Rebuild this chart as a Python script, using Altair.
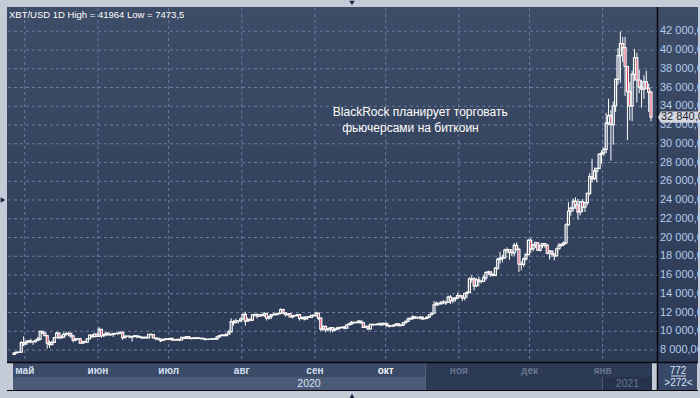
import altair as alt
import pandas as pd

# ---------------- data (high, low, close) per month; open = previous close ----------------
first_open = 7540
apr = [(7700, 7473.5, 7690), (7790, 7650, 7770), (7800, 7680, 7760), (8950, 7740, 8780), (9460, 8420, 8630)]
may = [(9050, 8630, 8830), (9000, 8760, 8970), (9180, 8720, 8890), (8960, 8550, 8880), (9100, 8790, 9030),
       (9400, 8940, 9160), (9990, 9040, 9990), (9990, 9730, 9810), (9900, 9490, 9540), (9580, 8140, 8730),
       (9020, 8220, 8570), (8980, 8560, 8810), (9370, 8790, 9310), (9930, 9270, 9790), (9840, 9150, 9310),
       (9580, 9220, 9380), (9880, 9340, 9670), (9950, 9480, 9730), (9880, 9460, 9780), (9840, 9280, 9510),
       (9560, 8810, 9060), (9260, 8940, 9170), (9300, 9090, 9180), (9290, 8700, 8720), (8980, 8640, 8900),
       (9010, 8700, 8840), (9220, 8810, 9200), (9620, 9110, 9580), (9610, 9330, 9430), (9740, 9350, 9700),
       (9700, 9400, 9450)]
jun = [(10430, 9410, 10200), (10230, 9300, 9520), (9690, 9380, 9660), (9880, 9480, 9800), (9850, 9590, 9620),
       (9730, 9540, 9670), (9800, 9400, 9760), (9800, 9640, 9780), (9880, 9580, 9770), (9990, 9730, 9880),
       (9940, 9080, 9310), (9550, 9260, 9470), (9490, 9390, 9480), (9490, 9260, 9390), (9500, 8900, 9440),
       (9560, 9370, 9520), (9540, 9240, 9460), (9480, 9280, 9380), (9400, 9210, 9300), (9400, 9190, 9360),
       (9420, 9270, 9290), (9710, 9280, 9680), (9690, 9580, 9630), (9670, 9220, 9290), (9330, 9010, 9250),
       (9280, 9060, 9160), (9190, 8840, 9010), (9190, 8960, 9120), (9230, 9030, 9190), (9200, 9090, 9140)]
jul = [(9300, 9100, 9230), (9270, 8950, 9090), (9130, 9040, 9060), (9190, 9050, 9130), (9130, 8940, 9070),
       (9370, 9060, 9340), (9350, 9200, 9250), (9460, 9230, 9430), (9440, 9150, 9230), (9310, 9120, 9280),
       (9300, 9200, 9230), (9340, 9160, 9300), (9340, 9210, 9240), (9280, 9130, 9250), (9270, 9170, 9190),
       (9200, 9010, 9130), (9180, 9100, 9150), (9200, 9130, 9170), (9240, 9120, 9210), (9220, 9130, 9160),
       (9420, 9140, 9390), (9550, 9290, 9530), (9650, 9460, 9600), (9670, 9460, 9540), (9740, 9530, 9700),
       (10150, 9650, 9930), (11390, 9920, 11030), (11220, 10600, 10910), (11340, 10880, 11110),
       (11170, 10840, 11110), (11450, 10990, 11330)]
aug = [(11850, 11230, 11800), (12090, 10600, 11070), (11470, 11020, 11230), (11420, 11060, 11190),
       (11790, 11100, 11740), (11900, 11590, 11770), (11910, 11360, 11600), (11800, 11540, 11760),
       (11800, 11560, 11680), (12060, 11520, 11880), (11930, 11150, 11400), (11620, 11250, 11580),
       (11800, 11300, 11780), (11980, 11660, 11770), (11970, 11690, 11860), (11950, 11710, 11910),
       (12470, 11800, 12300), (12400, 11850, 11960), (12020, 11580, 11760), (11880, 11690, 11860),
       (11880, 11500, 11530), (11690, 11380, 11680), (11710, 11530, 11660), (11820, 11600, 11770),
       (11780, 11130, 11360), (11550, 11270, 11470), (11580, 11150, 11330), (11560, 11290, 11540),
       (11600, 11430, 11490), (11720, 11460, 11700), (11780, 11570, 11670)]
sep = [(12090, 11560, 11930), (11950, 11170, 11410), (11470, 10020, 10230), (10600, 10020, 10510),
       (10580, 9880, 10170), (10360, 10000, 10260), (10400, 9890, 10380), (10430, 9880, 10120),
       (10350, 10000, 10230), (10490, 10200, 10350), (10410, 10190, 10400), (10470, 10300, 10440),
       (10550, 10220, 10330), (10780, 10270, 10680), (10920, 10640, 10790), (11090, 10660, 10950),
       (11040, 10750, 10940), (11030, 10820, 10930), (11170, 10900, 11080), (11080, 10800, 10920),
       (10990, 10370, 10420), (10570, 10370, 10530), (10540, 10150, 10240), (10770, 10200, 10740),
       (10760, 10600, 10690), (10780, 10650, 10730), (10800, 10620, 10770), (10950, 10640, 10690),
       (10870, 10640, 10840), (10850, 10680, 10780)]
octo = [(10940, 10450, 10620), (10660, 10380, 10570), (10600, 10510, 10550), (10690, 10520, 10670),
        (10800, 10630, 10790), (10800, 10540, 10600), (10690, 10580, 10670), (10950, 10550, 10920),
        (11110, 10830, 11060), (11480, 11060, 11300), (11440, 11260, 11380), (11720, 11200, 11540),
        (11560, 11300, 11430), (11560, 11290, 11430), (11620, 11260, 11500), (11540, 11230, 11320),
        (11410, 11310, 11370), (11540, 11350, 11510), (11820, 11420, 11760), (12020, 11690, 11920),
        (13230, 11900, 12820), (13190, 12700, 12980), (13030, 12730, 12930), (13170, 12890, 13120),
        (13350, 12900, 13040), (13250, 12800, 13070), (13790, 13060, 13650), (13860, 12920, 13270),
        (13640, 12990, 13460), (13660, 13130, 13560), (14100, 13430, 13800)]
nov = [(13900, 13620, 13760), (13820, 13210, 13550), (14070, 13300, 14030), (14240, 13540, 14150),
       (15760, 14100, 15590), (15960, 15180, 15580), (15760, 14360, 14830), (15650, 14700, 15480),
       (15830, 14810, 15330), (15460, 15080, 15310), (15960, 15270, 15700), (16340, 15440, 16290),
       (16480, 15980, 16330), (16330, 15800, 16070), (16130, 15860, 15960), (16880, 15880, 16720),
       (17850, 16560, 17660), (18480, 17220, 17790), (18150, 17350, 17820), (18800, 17760, 18660),
       (18950, 18310, 18700), (18700, 17620, 18420), (18770, 18000, 18370), (19420, 18030, 19160),
       (19490, 18600, 18730), (18920, 16330, 17150), (17450, 16500, 17140), (17870, 16880, 17720),
       (18340, 17540, 18180), (19860, 18170, 19700)]
dec = [(19920, 18330, 18780), (19300, 18520, 19210), (19560, 18900, 19440), (19500, 18570, 18650),
       (19170, 18500, 19150), (19420, 18860, 19360), (19410, 18900, 19170), (19290, 18200, 18320),
       (18640, 17650, 18550), (18560, 17910, 18250), (18270, 17570, 18040), (18930, 18030, 18800),
       (19410, 18720, 19170), (19350, 19000, 19270), (19570, 19060, 19430), (21530, 19290, 21360),
       (23770, 21240, 22800), (23280, 22340, 23130), (24170, 22750, 23860), (24280, 23060, 23480),
       (24100, 21900, 22740), (23840, 22360, 23820), (24100, 22700, 23240), (23780, 22720, 23730),
       (24770, 23430, 24710), (26870, 24510, 26490), (28390, 25850, 26280), (27450, 26100, 27070),
       (27370, 25880, 27370), (28990, 27330, 28880), (29300, 27870, 28990)]
jan = [(29600, 28700, 29390), (33300, 29000, 32200), (34800, 32000, 33000), (33600, 28200, 32030),
       (34500, 29900, 34050), (36950, 33400, 36860), (40200, 36300, 39400), (41964, 36500, 40670),
       (41380, 38700, 40250), (41400, 35100, 38240), (38300, 30400, 35560), (36600, 32500, 34050),
       (37800, 32400, 37400), (40100, 36700, 39150), (39700, 34400, 36800), (37900, 35400, 36050),
       (36800, 33850, 35830), (37300, 34800, 36630), (37800, 35900, 35920), (36400, 33400, 35500),
       (35600, 32400, 32840)]

price_ticks = [8000, 10000, 12000, 14000, 16000, 18000, 20000, 22000, 24000, 26000, 28000, 30000,
               32000, 34000, 36000, 38000, 40000, 42000]
month_starts = ["2020-05-01", "2020-06-01", "2020-07-01", "2020-08-01", "2020-09-01", "2020-10-01",
                "2020-11-01", "2020-12-01", "2021-01-01"]
month_labels = ["май", "июн", "июл", "авг", "сен", "окт", "ноя", "дек", "янв"]
month_colors = ["#d3e0f2"] * 5 + ["#f2f6fc"] + ["#66748e"] * 3
header = "XBT/USD 1D High = 41964 Low = 7473,5"
note_lines = ["BlackRock планирует торговать", "фьючерсами на биткоин"]
note_dates = ["2020-09-08T14:00:00", "2020-09-12T14:00:00"]
note_prices = [33380, 31680]
last_price_label = "32 840,00"
counter_top, counter_bottom = "772", ">272<"

# ---------------- table ----------------
rows = [r for m in (apr, may, jun, jul, aug, sep, octo, nov, dec, jan) for r in m]
dates = pd.date_range("2020-04-26 12:00", periods=len(rows), freq="D")
closes = [r[2] for r in rows]
opens = [first_open] + closes[:-1]
df = pd.DataFrame({
    "date": dates.strftime("%Y-%m-%dT%H:%M:%S"),
    "open": opens, "high": [r[0] for r in rows], "low": [r[1] for r in rows], "close": closes,
})
df["top"] = df[["open", "close"]].max(axis=1)
df["bot"] = df[["open", "close"]].min(axis=1)
df["up"] = df["close"] >= df["open"]

W, H = 649, 354
FONT = "Liberation Sans"
BG_TOP, BG_BOT = "#3d4c67", "#2c3a55"
GRID = "#6a7e9c"
LINE = "#05070c"

x_dom = [alt.DateTime(year=2020, month=4, date=26, hours=0),
         alt.DateTime(year=2021, month=1, date=21, hours=22)]
xscale = alt.Scale(domain=x_dom)
yscale = alt.Scale(domain=[6720, 44480], nice=False, zero=False)
X = lambda f: alt.X(f, scale=xscale, axis=None)
Y = lambda f: alt.Y(f, scale=yscale, axis=None)

one = pd.DataFrame({"a": [0]})

bg = alt.Chart(one).mark_rect(
    fill=alt.LinearGradient(gradient="linear", x1=0, x2=0, y1=0, y2=1,
                            stops=[alt.GradientStop(color=BG_TOP, offset=0),
                                   alt.GradientStop(color=BG_BOT, offset=1)])
).encode(x=alt.value(-1), x2=alt.value(690), y=alt.value(-1), y2=alt.value(355))

# grid
months_df = pd.DataFrame({"d": [m + "T00:00:00" for m in month_starts], "lab": month_labels,
                          "col": month_colors})
vgrid = alt.Chart(months_df).mark_rule(color=GRID, strokeDash=[3, 3], strokeWidth=1).encode(
    x=X("d:T"), y=alt.value(0), y2=alt.value(354))
ticks_df = pd.DataFrame({"p": price_ticks})
ticks_df["lab"] = [f"{p:,.2f}".replace(",", " ").replace(".", ",") for p in price_ticks]
hgrid = alt.Chart(ticks_df).mark_rule(color=GRID, strokeDash=[3, 3], strokeWidth=1).encode(
    y=Y("p:Q"), x=alt.value(0), x2=alt.value(649))

# bottom date band segments (data-driven through x scale)
band = pd.DataFrame({
    "start": ["2020-04-26T00:00:00", "2020-10-18T00:00:00",
              "2020-04-26T00:00:00", "2020-10-18T00:00:00", "2021-01-01T00:00:00"],
    "end": ["2020-10-18T00:00:00", "2021-01-21T22:00:00",
            "2020-10-18T00:00:00", "2021-01-01T00:00:00", "2021-01-21T22:00:00"],
    "row": ["m", "m", "y", "y", "y"],
    "col": ["#3b4a66", "#2d3a55", "#4a5a77", "#2e3b56", "#27334d"],
})
band_m = alt.Chart(band[band.row == "m"]).mark_rect().encode(
    x=X("start:T"), x2="end:T", y=alt.value(355), y2=alt.value(369),
    fill=alt.Fill("col:N", scale=None))
band_y = alt.Chart(band[band.row == "y"]).mark_rect().encode(
    x=X("start:T"), x2="end:T", y=alt.value(369), y2=alt.value(382),
    fill=alt.Fill("col:N", scale=None))

month_text = alt.Chart(months_df).mark_text(font=FONT, fontSize=10, fontWeight="bold",
                                            baseline="middle").encode(
    x=X("d:T"), y=alt.value(363), text="lab:N", color=alt.Color("col:N", scale=None))

years = pd.DataFrame({"label": ["2020", "2021"],
                      "mid": ["2020-08-29T12:00:00", "2021-01-11T11:00:00"],
                      "col": ["#d8e2f2", "#66748e"]})
year_text = alt.Chart(years).mark_text(font=FONT, fontSize=10.5, baseline="middle").encode(
    x=X("mid:T"), y=alt.value(376), text="label:N", color=alt.Color("col:N", scale=None))

price_text = alt.Chart(ticks_df).mark_text(font=FONT, fontSize=11, color="#b3ccec", align="left",
                                           baseline="middle").encode(
    x=alt.value(652), y=Y("p:Q"), text="lab:N")

base = alt.Chart(df).encode(x=X("date:T"))
wick_up = base.mark_rule(color="white", strokeWidth=1).encode(y=Y("high:Q"), y2="top:Q")
wick_dn = base.mark_rule(color="white", strokeWidth=1).encode(y=Y("bot:Q"), y2="low:Q")
body = base.mark_bar(size=2, stroke="white", strokeWidth=1.2).encode(
    y=Y("open:Q"), y2="close:Q",
    fill=alt.condition("datum.up", alt.value("rgba(0,0,0,0)"), alt.value("#e3173e")))

head = alt.Chart(one).mark_text(text=header, font=FONT, fontSize=9.5, color="white",
                                align="left", baseline="middle").encode(
    x=alt.value(1), y=alt.value(7))

notes = pd.DataFrame({"t": note_lines, "d": note_dates, "p": note_prices})
note = alt.Chart(notes).mark_text(font=FONT, fontSize=12, color="white", align="left",
                                  baseline="middle").encode(
    x=X("d:T"), y=Y("p:Q"), text="t:N")

last = df.tail(1)
tag_box = alt.Chart(last).mark_point(
    shape="M-1,0 L-0.86,-0.27 L1,-0.27 L1,0.27 L-0.86,0.27 Z", filled=True, size=1764,
    color="#d3d8e0", opacity=1).encode(x=alt.value(671), y=Y("close:Q"))
tag_txt = alt.Chart(last).mark_text(text=last_price_label, font=FONT, fontSize=11, color="#1b2233",
                                    align="left", baseline="middle").encode(
    x=alt.value(653), y=Y("close:Q"))

vline = alt.Chart(one).mark_rule(color=LINE, strokeWidth=1.5).encode(
    x=alt.value(649.5), y=alt.value(-1), y2=alt.value(382))
hline = alt.Chart(one).mark_rule(color=LINE, strokeWidth=1.5).encode(
    x=alt.value(-1), x2=alt.value(690), y=alt.value(354.5))
hline2 = alt.Chart(one).mark_rule(color=LINE, strokeWidth=1).encode(
    x=alt.value(-1), x2=alt.value(690), y=alt.value(382.5))
cbox = alt.Chart(one).mark_rect(fill="#394867").encode(
    x=alt.value(650), x2=alt.value(689), y=alt.value(355), y2=alt.value(382))
c1 = alt.Chart(one).mark_text(text=counter_top, font=FONT, fontSize=10, color="#d6e4f8",
                              baseline="middle").encode(x=alt.value(670), y=alt.value(362.5))
c2 = alt.Chart(one).mark_text(text=counter_bottom, font=FONT, fontSize=10, color="#d6e4f8",
                              baseline="middle").encode(x=alt.value(670.5), y=alt.value(375))
cl = alt.Chart(one).mark_rule(color="#d6e4f8", strokeWidth=1).encode(
    x=alt.value(663), x2=alt.value(678), y=alt.value(368))

tri = pd.DataFrame({"shape": ["triangle-down", "triangle-up", "triangle-right"],
                    "px": [344, 344, -5], "py": [-5, 388, 192]})
arrows = alt.Chart(tri).mark_point(filled=True, size=30, color="#1c2740", opacity=1).encode(
    x=alt.X("px:Q", scale=None), y=alt.Y("py:Q", scale=None),
    shape=alt.Shape("shape:N", scale=None))

chart = alt.layer(
    bg, band_m, band_y, vgrid, hgrid, month_text, year_text, price_text,
    wick_up, wick_dn, body, head, note,
    cbox, c1, c2, cl, vline, hline, hline2, tag_box, tag_txt, arrows,
).resolve_scale(fill="independent", color="independent", shape="independent").properties(
    width=W, height=H, autosize="none",
    padding={"left": 8, "top": 8, "right": 43, "bottom": 36},
    background="#c3cbd6",
).configure_view(stroke=None)

chart.save("out.html", embed_options={"renderer": "svg", "actions": False})
